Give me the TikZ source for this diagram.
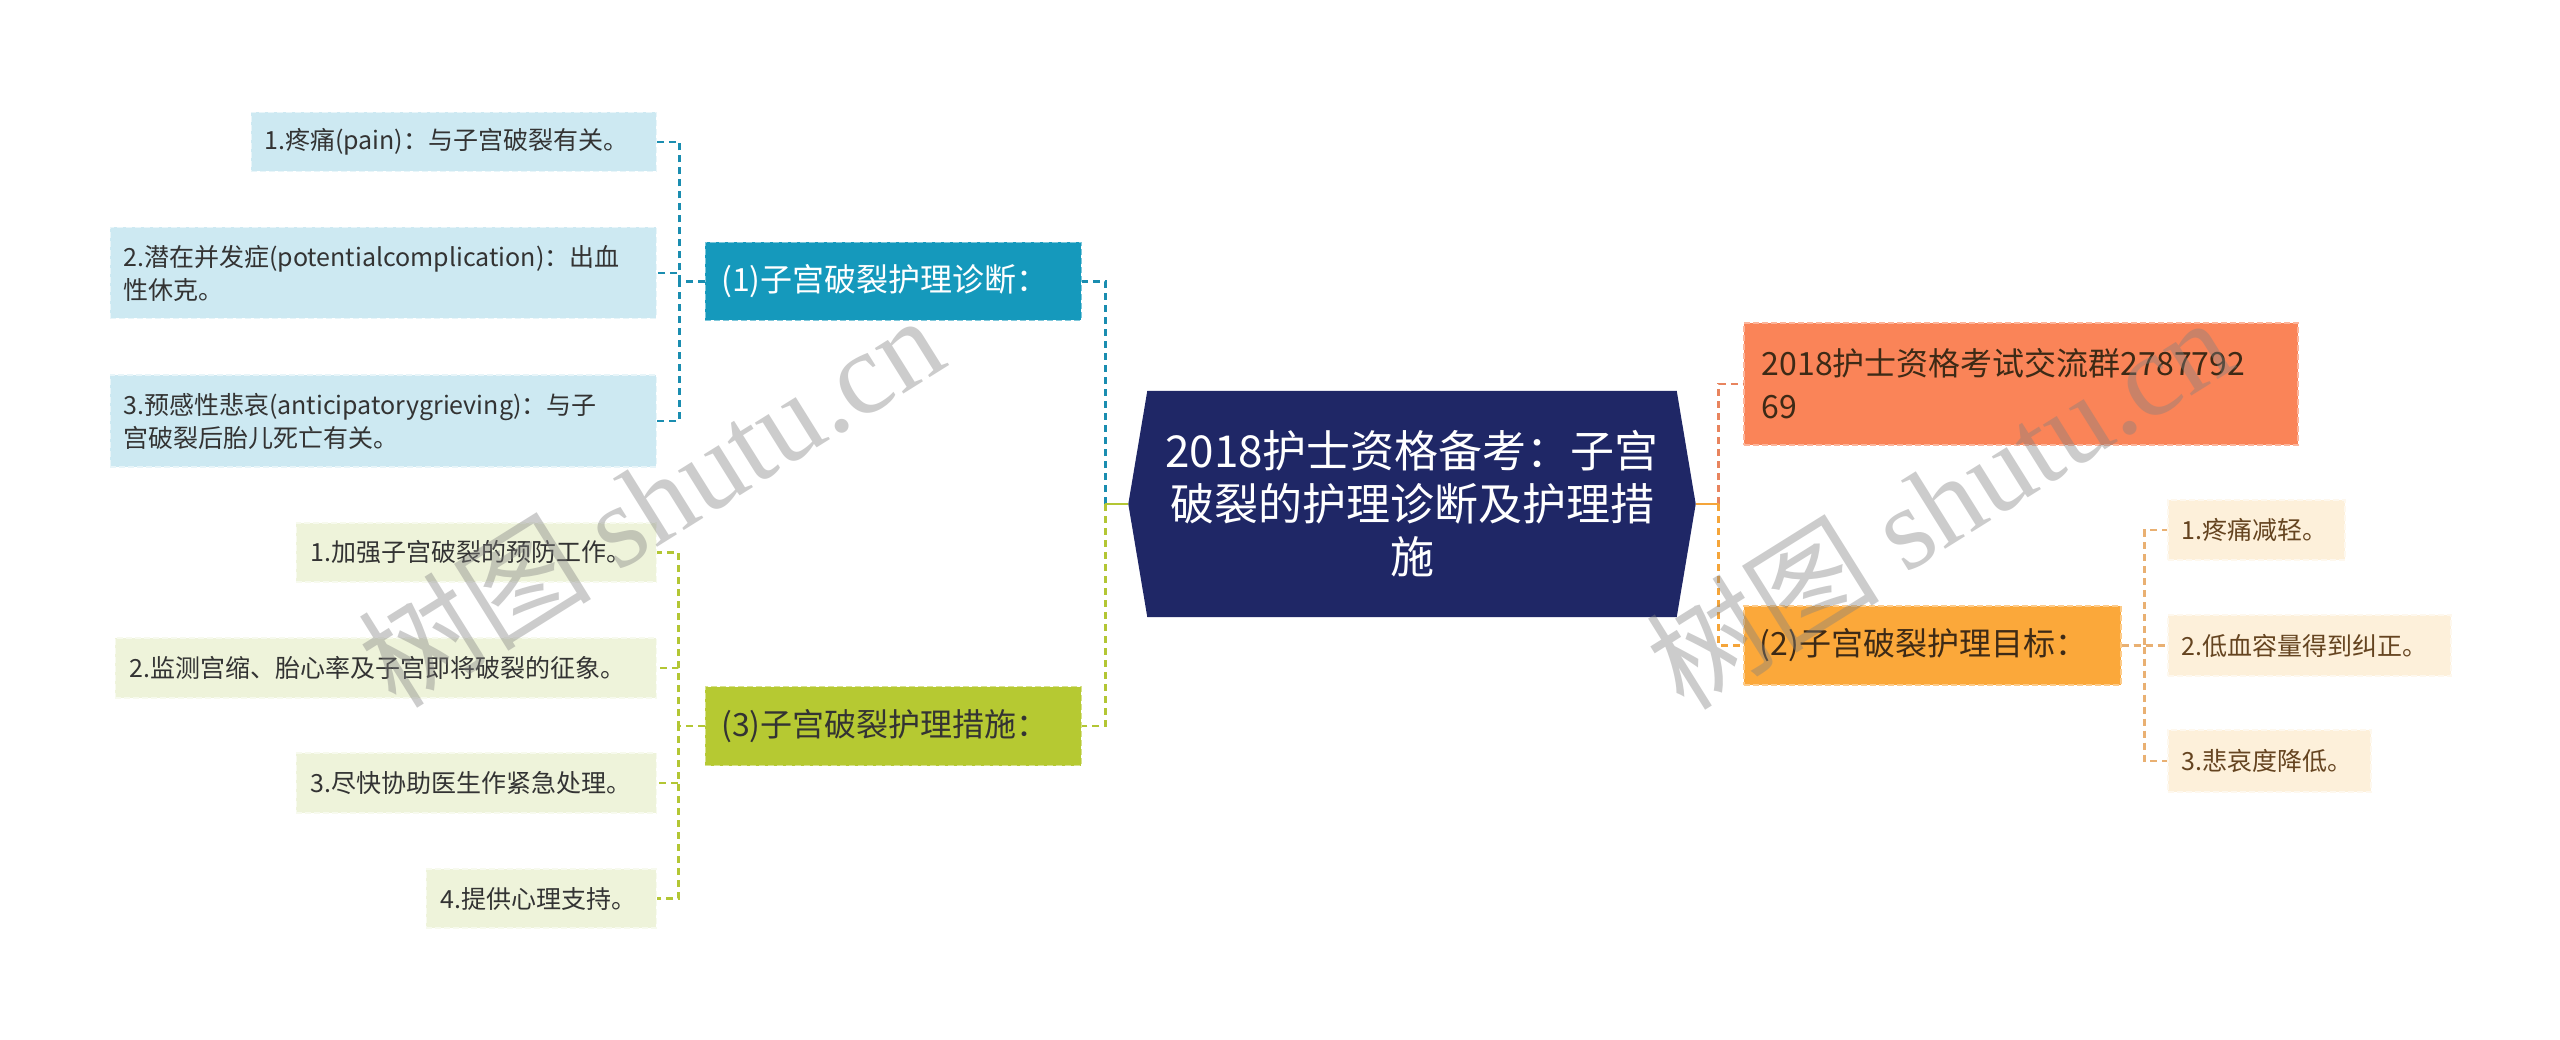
\documentclass[tikz,border=0pt]{standalone}
\usepackage{fontspec}
\setmainfont{Noto Sans CJK SC}
\newfontfamily\wmlatin{Liberation Serif}
\usetikzlibrary{backgrounds}
\definecolor{navy}{HTML}{1F2766}
\definecolor{tealbox}{HTML}{1599BC}
\definecolor{tealline}{HTML}{1A8DB0}
\definecolor{limebox}{HTML}{B6C932}
\definecolor{limeline}{HTML}{B3C634}
\definecolor{coralbox}{HTML}{FA8458}
\definecolor{coralline}{HTML}{E8845E}
\definecolor{amberbox}{HTML}{FBA83A}
\definecolor{amberline}{HTML}{F5A53A}
\definecolor{creamline}{HTML}{E9B072}
\definecolor{lblue}{HTML}{CDE9F2}
\definecolor{lgreen}{HTML}{EEF3DA}
\definecolor{lcream}{HTML}{FDF0DA}
\definecolor{darktext}{HTML}{333333}
\definecolor{browntext}{HTML}{3D2A16}
\definecolor{leaftext}{HTML}{654420}
\tikzset{
  conn/.style={line width=2.5pt, dash pattern=on 7pt off 5pt},
  stub/.style={line width=2.5pt},
  boxbase/.style={rectangle, inner ysep=0pt, align=left, line width=1.5pt, dash pattern=on 6pt off 3pt},
  leaffont/.style={font=\fontsize{25}{33}\selectfont},
  leafblue/.style={boxbase, leaffont, fill=lblue, draw=lblue!45!white, text=darktext, inner xsep=13pt, anchor=east},
  leafgreen/.style={boxbase, leaffont, fill=lgreen, draw=lgreen!45!white, text=darktext, inner xsep=14pt, anchor=east},
  leafcream/.style={boxbase, leaffont, fill=lcream, draw=lcream!45!white, text=leaftext, inner xsep=14pt, anchor=west},
  mainbox/.style={boxbase, inner xsep=16pt, font=\fontsize{32}{43}\selectfont},
  centerbox/.style={rectangle, inner sep=0pt, minimum width=567pt, minimum height=226pt, align=center, text=white, font=\fontsize{44}{53}\selectfont},
  wm/.style={text=gray, opacity=0.40, font=\fontsize{117}{120}\selectfont, inner sep=0pt}
}
\begin{document}
\begin{tikzpicture}[x=1pt,y=-1pt]
\useasboundingbox (0,0) rectangle (2560,1040);

% central topic
\node[centerbox] (c) at (1412,504) {2018护士资格备考：子宫\\破裂的护理诊断及护理措\\施};
\begin{scope}[on background layer]
  \fill[white] (0,0) rectangle (2560,1040);
  \fill[navy] ([xshift=19pt]c.north west) -- ([xshift=-19pt]c.north east) -- (c.east)
    -- ([xshift=-19pt]c.south east) -- ([xshift=19pt]c.south west) -- (c.west) -- cycle;
\end{scope}

% main branches
\node[mainbox, fill=tealbox, draw=tealbox!55!white, text=white, anchor=east, text width=344pt, minimum height=78pt] (n1) at (1082,281.5) {(1)子宫破裂护理诊断：};
\node[mainbox, fill=limebox, draw=limebox!55!white, text=darktext, anchor=east, text width=344pt, minimum height=79pt] (n3) at (1082,726) {(3)子宫破裂护理措施：};
\node[mainbox, fill=coralbox, draw=coralbox!60!white, text=browntext, anchor=west, inner xsep=18pt, text width=518pt, minimum height=122pt] (o) at (1743,384) {2018护士资格考试交流群2787792\\69};
\node[mainbox, fill=amberbox, draw=amberbox!60!white, text=browntext, anchor=west, text width=345pt, minimum height=79pt] (n2) at (1743,645.5) {(2)子宫破裂护理目标：};

% leaves of (1)
\node[leafblue, text width=379pt, minimum height=59pt] (d1) at (657,142) {1.疼痛(pain)：与子宫破裂有关。};
\node[leafblue, text width=520pt, minimum height=91pt] (d2) at (657,273) {2.潜在并发症(potentialcomplication)：出血\\性休克。};
\node[leafblue, text width=520pt, minimum height=92pt] (d3) at (657,421) {3.预感性悲哀(anticipatorygrieving)：与子\\宫破裂后胎儿死亡有关。};

% leaves of (3)
\node[leafgreen, text width=332pt, minimum height=59pt] (m1) at (657,552.5) {1.加强子宫破裂的预防工作。};
\node[leafgreen, text width=513pt, minimum height=60pt] (m2) at (657,668) {2.监测宫缩、胎心率及子宫即将破裂的征象。};
\node[leafgreen, text width=332pt, minimum height=60pt] (m3) at (657,783) {3.尽快协助医生作紧急处理。};
\node[leafgreen, text width=202pt, minimum height=59pt] (m4) at (657,898.5) {4.提供心理支持。};

% leaves of (2)
\node[leafcream, text width=149pt, minimum height=60pt] (g1) at (2167,530) {1.疼痛减轻。};
\node[leafcream, text width=255pt, minimum height=61pt] (g2) at (2167,645.5) {2.低血容量得到纠正。};
\node[leafcream, text width=175pt, minimum height=62pt] (g3) at (2167,761) {3.悲哀度降低。};

% connectors: centre to main branches
\draw[conn, tealline] (c.west) ++(-23,0) |- (n1.east);
\draw[conn, limeline] (c.west) ++(-23,0) |- (n3.east);
\draw[stub, limeline] (c.west) -- ++(-23,0);
\draw[conn, coralline] (c.east) ++(23,0) |- (o.west);
\draw[conn, amberline] (c.east) ++(23,0) |- (n2.west);
\draw[stub, amberline] (c.east) -- ++(23,0);

% connectors: (1) to leaves
\foreach \t in {d1,d2,d3} \draw[conn, tealline] (n1.west) -- ++(-25,0) |- (\t.east);
% connectors: (3) to leaves
\foreach \t in {m1,m2,m3,m4} \draw[conn, limeline] (n3.west) -- ++(-26,0) |- (\t.east);
% connectors: (2) to leaves
\foreach \t in {g1,g2,g3} \draw[conn, creamline] (n2.east) -- ++(23,0) |- (\t.west);

% watermarks
\node[wm, rotate=32] (w1) at (650,500) {树图 {\wmlatin shutu.cn}};
\node[wm, rotate=32] (w2) at (1938,502) {树图 {\wmlatin shutu.cn}};
\end{tikzpicture}
\end{document}
